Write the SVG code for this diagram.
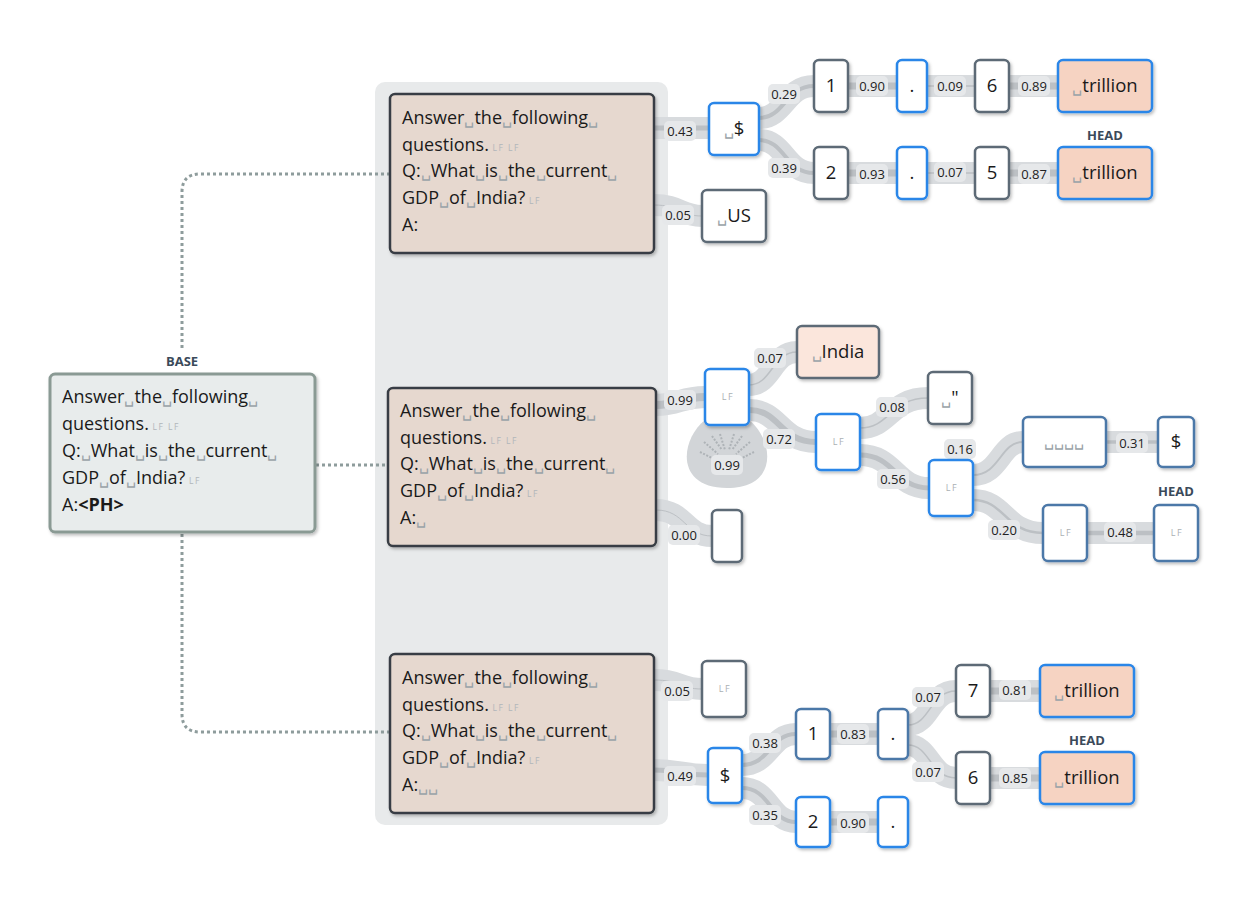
<svg xmlns="http://www.w3.org/2000/svg" width="1235" height="905" viewBox="0 0 1235 905">
<style>
text{font-family:"Open Sans","Noto Sans","Liberation Sans",sans-serif}
.t{font-size:18px;fill:#1a1a1a}
.sp{font-size:16px;fill:#9aa3a8}
.lf{font-size:8.5px;fill:#b0b6ba;letter-spacing:1.5px}
.tk{font-size:18.5px;fill:#1a1a1a;text-anchor:middle}
.lfn{font-size:9px;fill:#aab0b4;letter-spacing:1.5px;text-anchor:middle}
.band{fill:none;stroke:#d8dbde;stroke-width:22}
.core{fill:none;stroke:#bcc0c4}
.lb rect{fill:#e6e8ea}
.lb text{font-size:13px;fill:#222;text-anchor:middle}
.hd{font-size:13px;font-weight:bold;fill:#3b4a5a;text-anchor:middle}
.nb{fill:#fff;stroke:#2a86e8;stroke-width:2.5}
.ng{fill:#fff;stroke:#5d6a76;stroke-width:2.5}
.ns{fill:#fff;stroke:#4c78a8;stroke-width:2.5}
.or{fill:#f6d3c2}
.lo{fill:#fbe6dc}
.pr{fill:#e6d8cf;stroke:#393e44;stroke-width:2.5}
.dot{fill:none;stroke:#8e9c9c;stroke-width:3;stroke-dasharray:3 3}
</style>
<defs><filter id="sh" x="-20%" y="-20%" width="140%" height="140%"><feDropShadow dx="1.5" dy="2" stdDeviation="1.5" flood-color="#000" flood-opacity="0.25"/></filter></defs>
<rect x="375" y="82" width="293" height="743" rx="10" fill="#e8eaeb"/>
<g id="connectors">
<path class="dot" d="M390 174 H200 Q182 174 182 192 V350"/>
<path class="dot" d="M316 465 H388"/>
<path class="dot" d="M182 534 V714 Q182 732 200 732 H390"/>
<path d="M705 420 C680 440 675 488 727 488 C779 488 774 440 749 420 Z" fill="#d2d5d8"/>
<path d="M700 452 L716 460 M704 442 L718 454 M712 436 L722 450 M720 434 L725 450 M734 434 L729 450 M742 436 L732 450 M750 442 L736 454 M754 452 L738 460" stroke="#aeb3b7" stroke-width="2" stroke-dasharray="2 1.5"/>
<g id="edges">
<path class="band" d="M654 128 H709"/><path class="band" d="M654 205 C680 205 680 216 702 216"/>
<path class="band" d="M759 118 C785 118 785 86 814 86"/><path class="band" d="M759 140 C785 140 785 173 814 173"/>
<path class="band" d="M848 86 H1058 M848 173 H1058"/>
<path class="band" d="M656 405 C680 405 680 397 705 397"/><path class="band" d="M749 385 C772 385 772 352 797 352"/>
<path class="band" d="M749 410 C780 410 780 442 816 442"/><path class="band" d="M860 428 C890 428 890 398 928 398"/>
<path class="band" d="M860 455 C895 455 895 488 929 488"/><path class="band" d="M973 475 C1000 475 1000 442 1023 442"/>
<path class="band" d="M1106 442 H1158 M1087 533 H1154"/><path class="band" d="M973 500 C1005 500 1005 533 1043 533"/>
<path class="band" d="M656 510 C685 510 685 536 712 536"/>
<path class="band" d="M654 680 C680 680 680 689 702 689"/><path class="band" d="M654 770 C680 770 680 775 708 775"/>
<path class="band" d="M742 765 C770 765 770 734 796 734"/><path class="band" d="M742 788 C770 788 770 822 796 822"/>
<path class="band" d="M830 734 H878 M830 822 H878"/><path class="band" d="M908 725 C930 725 930 691 956 691"/>
<path class="band" d="M908 745 C930 745 930 778 956 778"/><path class="band" d="M990 691 H1040 M990 778 H1040"/>
<g class="core">
<path stroke-width="5" d="M654 128 H709"/><path stroke-width="1" d="M654 205 C680 205 680 216 702 216"/>
<path stroke-width="4" d="M759 118 C785 118 785 86 814 86"/><path stroke-width="4" d="M759 140 C785 140 785 173 814 173"/>
<path stroke-width="7" d="M848 86 H897 M848 173 H897 M1009 86 H1058 M1009 173 H1058"/><path stroke-width="1.5" d="M927 86 H975 M927 173 H975"/>
<path stroke-width="8" d="M656 405 C680 405 680 397 705 397"/><path stroke-width="1.5" d="M749 385 C772 385 772 352 797 352"/>
<path stroke-width="6" d="M749 410 C780 410 780 442 816 442"/><path stroke-width="1.5" d="M860 428 C890 428 890 398 928 398"/>
<path stroke-width="5" d="M860 455 C895 455 895 488 929 488"/><path stroke-width="2" d="M973 475 C1000 475 1000 442 1023 442"/>
<path stroke-width="3.5" d="M1106 442 H1158"/><path stroke-width="4.5" d="M1087 533 H1154"/><path stroke-width="2.5" d="M973 500 C1005 500 1005 533 1043 533"/>
<path stroke-width="1" d="M656 510 C685 510 685 536 712 536"/>
<path stroke-width="1" d="M654 680 C680 680 680 689 702 689"/><path stroke-width="5" d="M654 770 C680 770 680 775 708 775"/>
<path stroke-width="4" d="M742 765 C770 765 770 734 796 734"/><path stroke-width="4" d="M742 788 C770 788 770 822 796 822"/>
<path stroke-width="7" d="M830 734 H878 M830 822 H878 M990 691 H1040 M990 778 H1040"/>
<path stroke-width="1.5" d="M908 725 C930 725 930 691 956 691 M908 745 C930 745 930 778 956 778"/>
</g>
</g>
<g class="lb">
<rect x="664" y="121" width="32" height="20" rx="5"/><text x="680" y="136">0.43</text>
<rect x="662" y="205" width="32" height="20" rx="5"/><text x="678" y="220">0.05</text>
<rect x="768" y="84" width="32" height="20" rx="5"/><text x="784" y="99">0.29</text>
<rect x="768" y="158" width="32" height="20" rx="5"/><text x="784" y="173">0.39</text>
<rect x="856" y="76" width="32" height="20" rx="5"/><text x="872" y="91">0.90</text>
<rect x="934" y="76" width="32" height="20" rx="5"/><text x="950" y="91">0.09</text>
<rect x="1018" y="76" width="32" height="20" rx="5"/><text x="1034" y="91">0.89</text>
<rect x="856" y="164" width="32" height="20" rx="5"/><text x="872" y="179">0.93</text>
<rect x="934" y="162" width="32" height="20" rx="5"/><text x="950" y="177">0.07</text>
<rect x="1018" y="164" width="32" height="20" rx="5"/><text x="1034" y="179">0.87</text>
<rect x="664" y="390" width="32" height="20" rx="5"/><text x="680" y="405">0.99</text>
<rect x="711" y="455" width="32" height="20" rx="5"/><text x="727" y="470">0.99</text>
<rect x="754" y="348" width="32" height="20" rx="5"/><text x="770" y="363">0.07</text>
<rect x="763" y="429" width="32" height="20" rx="5"/><text x="779" y="444">0.72</text>
<rect x="876" y="397" width="32" height="20" rx="5"/><text x="892" y="412">0.08</text>
<rect x="877" y="469" width="32" height="20" rx="5"/><text x="893" y="484">0.56</text>
<rect x="944" y="439" width="32" height="20" rx="5"/><text x="960" y="454">0.16</text>
<rect x="1116" y="433" width="32" height="20" rx="5"/><text x="1132" y="448">0.31</text>
<rect x="988" y="520" width="32" height="20" rx="5"/><text x="1004" y="535">0.20</text>
<rect x="1104" y="522" width="32" height="20" rx="5"/><text x="1120" y="537">0.48</text>
<rect x="668" y="525" width="32" height="20" rx="5"/><text x="684" y="540">0.00</text>
<rect x="661" y="681" width="32" height="20" rx="5"/><text x="677" y="696">0.05</text>
<rect x="664" y="766" width="32" height="20" rx="5"/><text x="680" y="781">0.49</text>
<rect x="749" y="733" width="32" height="20" rx="5"/><text x="765" y="748">0.38</text>
<rect x="749" y="805" width="32" height="20" rx="5"/><text x="765" y="820">0.35</text>
<rect x="837" y="724" width="32" height="20" rx="5"/><text x="853" y="739">0.83</text>
<rect x="837" y="813" width="32" height="20" rx="5"/><text x="853" y="828">0.90</text>
<rect x="912" y="687" width="32" height="20" rx="5"/><text x="928" y="702">0.07</text>
<rect x="912" y="762" width="32" height="20" rx="5"/><text x="928" y="777">0.07</text>
<rect x="999" y="680" width="32" height="20" rx="5"/><text x="1015" y="695">0.81</text>
<rect x="999" y="768" width="32" height="20" rx="5"/><text x="1015" y="783">0.85</text>
</g>
</g>
<g id="base">
<text class="hd" x="182" y="366">BASE</text>
<rect x="50" y="374" width="265" height="158" rx="5" fill="#e8ecec" stroke="#8a9a94" stroke-width="3" filter="url(#sh)"/>
<text class="t" x="62" y="403">Answer<tspan class="sp">␣</tspan>the<tspan class="sp">␣</tspan>following<tspan class="sp">␣</tspan></text>
<text class="t" x="62" y="430">questions.<tspan class="lf"> LF LF</tspan></text>
<text class="t" x="62" y="457">Q:<tspan class="sp">␣</tspan>What<tspan class="sp">␣</tspan>is<tspan class="sp">␣</tspan>the<tspan class="sp">␣</tspan>current<tspan class="sp">␣</tspan></text>
<text class="t" x="62" y="484">GDP<tspan class="sp">␣</tspan>of<tspan class="sp">␣</tspan>India?<tspan class="lf"> LF</tspan></text>
<text class="t" x="62" y="511">A:<tspan font-weight="bold">&lt;PH&gt;</tspan></text>
</g>
<g id="prompt1">
<rect class="pr" x="390" y="94" width="264" height="159" rx="5" filter="url(#sh)"/>
<text class="t" x="402" y="124">Answer<tspan class="sp">␣</tspan>the<tspan class="sp">␣</tspan>following<tspan class="sp">␣</tspan></text>
<text class="t" x="402" y="151">questions.<tspan class="lf"> LF LF</tspan></text>
<text class="t" x="402" y="177">Q:<tspan class="sp">␣</tspan>What<tspan class="sp">␣</tspan>is<tspan class="sp">␣</tspan>the<tspan class="sp">␣</tspan>current<tspan class="sp">␣</tspan></text>
<text class="t" x="402" y="204">GDP<tspan class="sp">␣</tspan>of<tspan class="sp">␣</tspan>India?<tspan class="lf"> LF</tspan></text>
<text class="t" x="402" y="231">A:</text>
</g>
<g id="prompt2">
<rect class="pr" x="388" y="388" width="268" height="158" rx="5" filter="url(#sh)"/>
<text class="t" x="400" y="417">Answer<tspan class="sp">␣</tspan>the<tspan class="sp">␣</tspan>following<tspan class="sp">␣</tspan></text>
<text class="t" x="400" y="444">questions.<tspan class="lf"> LF LF</tspan></text>
<text class="t" x="400" y="470">Q:<tspan class="sp">␣</tspan>What<tspan class="sp">␣</tspan>is<tspan class="sp">␣</tspan>the<tspan class="sp">␣</tspan>current<tspan class="sp">␣</tspan></text>
<text class="t" x="400" y="497">GDP<tspan class="sp">␣</tspan>of<tspan class="sp">␣</tspan>India?<tspan class="lf"> LF</tspan></text>
<text class="t" x="400" y="524">A:<tspan class="sp">␣</tspan></text>
</g>
<g id="prompt3">
<rect class="pr" x="390" y="654" width="264" height="159" rx="5" filter="url(#sh)"/>
<text class="t" x="402" y="684">Answer<tspan class="sp">␣</tspan>the<tspan class="sp">␣</tspan>following<tspan class="sp">␣</tspan></text>
<text class="t" x="402" y="711">questions.<tspan class="lf"> LF LF</tspan></text>
<text class="t" x="402" y="737">Q:<tspan class="sp">␣</tspan>What<tspan class="sp">␣</tspan>is<tspan class="sp">␣</tspan>the<tspan class="sp">␣</tspan>current<tspan class="sp">␣</tspan></text>
<text class="t" x="402" y="764">GDP<tspan class="sp">␣</tspan>of<tspan class="sp">␣</tspan>India?<tspan class="lf"> LF</tspan></text>
<text class="t" x="402" y="791">A:<tspan class="sp">␣␣</tspan></text>
</g>
<g id="t1-dollar"><rect class="nb" x="709" y="103" width="50" height="52" rx="5" filter="url(#sh)"/><text class="tk" x="734" y="135"><tspan class="sp">␣</tspan>$</text></g>
<g id="t1-us"><rect class="ng" x="702" y="190" width="64" height="52" rx="5" filter="url(#sh)"/><text class="tk" x="734" y="222"><tspan class="sp">␣</tspan>US</text></g>
<g id="t1-1"><rect class="ng" x="814" y="60" width="34" height="52" rx="5" filter="url(#sh)"/><text class="tk" x="831" y="92">1</text></g>
<g id="t1-dot1"><rect class="nb" x="897" y="60" width="30" height="52" rx="5" filter="url(#sh)"/><text class="tk" x="912" y="92">.</text></g>
<g id="t1-6"><rect class="ng" x="975" y="60" width="34" height="52" rx="5" filter="url(#sh)"/><text class="tk" x="992" y="92">6</text></g>
<g id="t1-tr1"><rect class="nb or" x="1058" y="60" width="94" height="52" rx="5" filter="url(#sh)"/><text class="tk" x="1105" y="92"><tspan class="sp">␣</tspan>trillion</text></g>
<g id="t1-2"><rect class="ng" x="814" y="147" width="34" height="52" rx="5" filter="url(#sh)"/><text class="tk" x="831" y="179">2</text></g>
<g id="t1-dot2"><rect class="nb" x="897" y="147" width="30" height="52" rx="5" filter="url(#sh)"/><text class="tk" x="912" y="179">.</text></g>
<g id="t1-5"><rect class="ng" x="975" y="147" width="34" height="52" rx="5" filter="url(#sh)"/><text class="tk" x="992" y="179">5</text></g>
<g id="t1-tr2"><text class="hd" x="1105" y="140">HEAD</text><rect class="nb or" x="1058" y="147" width="94" height="52" rx="5" filter="url(#sh)"/><text class="tk" x="1105" y="179"><tspan class="sp">␣</tspan>trillion</text></g>
<g id="t2-lf1"><rect class="nb" x="705" y="369" width="44" height="56" rx="5" filter="url(#sh)"/><text class="lfn" x="728" y="400">LF</text></g>
<g id="t2-india"><rect class="ng lo" x="797" y="326" width="82" height="52" rx="5" filter="url(#sh)"/><text class="tk" x="838" y="358"><tspan class="sp">␣</tspan>India</text></g>
<g id="t2-lf2"><rect class="nb" x="816" y="414" width="44" height="56" rx="5" filter="url(#sh)"/><text class="lfn" x="839" y="445">LF</text></g>
<g id="t2-quote"><rect class="ng" x="928" y="372" width="44" height="52" rx="5" filter="url(#sh)"/><text class="tk" x="950" y="404"><tspan class="sp">␣</tspan>"</text></g>
<g id="t2-lf3"><rect class="nb" x="929" y="460" width="44" height="56" rx="5" filter="url(#sh)"/><text class="lfn" x="952" y="491">LF</text></g>
<g id="t2-spaces"><rect class="ns" x="1023" y="417" width="83" height="50" rx="5" filter="url(#sh)"/><text class="tk" x="1064" y="446"><tspan class="sp">␣␣␣␣</tspan></text></g>
<g id="t2-dollar"><rect class="ns" x="1158" y="417" width="36" height="50" rx="5" filter="url(#sh)"/><text class="tk" x="1176" y="448">$</text></g>
<g id="t2-lf4"><rect class="ns" x="1043" y="505" width="44" height="56" rx="5" filter="url(#sh)"/><text class="lfn" x="1066" y="536">LF</text></g>
<g id="t2-lf5"><text class="hd" x="1176" y="496">HEAD</text><rect class="ns" x="1154" y="505" width="44" height="56" rx="5" filter="url(#sh)"/><text class="lfn" x="1177" y="536">LF</text></g>
<g id="t2-empty"><rect class="ng" x="712" y="510" width="30" height="52" rx="5" filter="url(#sh)"/></g>
<g id="t3-lf"><rect class="ng" x="702" y="661" width="44" height="56" rx="5" filter="url(#sh)"/><text class="lfn" x="725" y="692">LF</text></g>
<g id="t3-dollar"><rect class="nb" x="708" y="748" width="34" height="55" rx="5" filter="url(#sh)"/><text class="tk" x="725" y="782">$</text></g>
<g id="t3-1"><rect class="ns" x="796" y="709" width="34" height="50" rx="5" filter="url(#sh)"/><text class="tk" x="813" y="740">1</text></g>
<g id="t3-dot1"><rect class="ns" x="878" y="709" width="30" height="50" rx="5" filter="url(#sh)"/><text class="tk" x="893" y="740">.</text></g>
<g id="t3-7"><rect class="ng" x="956" y="665" width="34" height="52" rx="5" filter="url(#sh)"/><text class="tk" x="973" y="697">7</text></g>
<g id="t3-tr1"><rect class="nb or" x="1040" y="665" width="94" height="52" rx="5" filter="url(#sh)"/><text class="tk" x="1087" y="697"><tspan class="sp">␣</tspan>trillion</text></g>
<g id="t3-6"><rect class="ng" x="956" y="752" width="34" height="52" rx="5" filter="url(#sh)"/><text class="tk" x="973" y="784">6</text></g>
<g id="t3-tr2"><text class="hd" x="1087" y="745">HEAD</text><rect class="nb or" x="1040" y="752" width="94" height="52" rx="5" filter="url(#sh)"/><text class="tk" x="1087" y="784"><tspan class="sp">␣</tspan>trillion</text></g>
<g id="t3-2"><rect class="nb" x="796" y="797" width="34" height="50" rx="5" filter="url(#sh)"/><text class="tk" x="813" y="828">2</text></g>
<g id="t3-dot2"><rect class="nb" x="878" y="797" width="30" height="50" rx="5" filter="url(#sh)"/><text class="tk" x="893" y="828">.</text></g>
</svg>
